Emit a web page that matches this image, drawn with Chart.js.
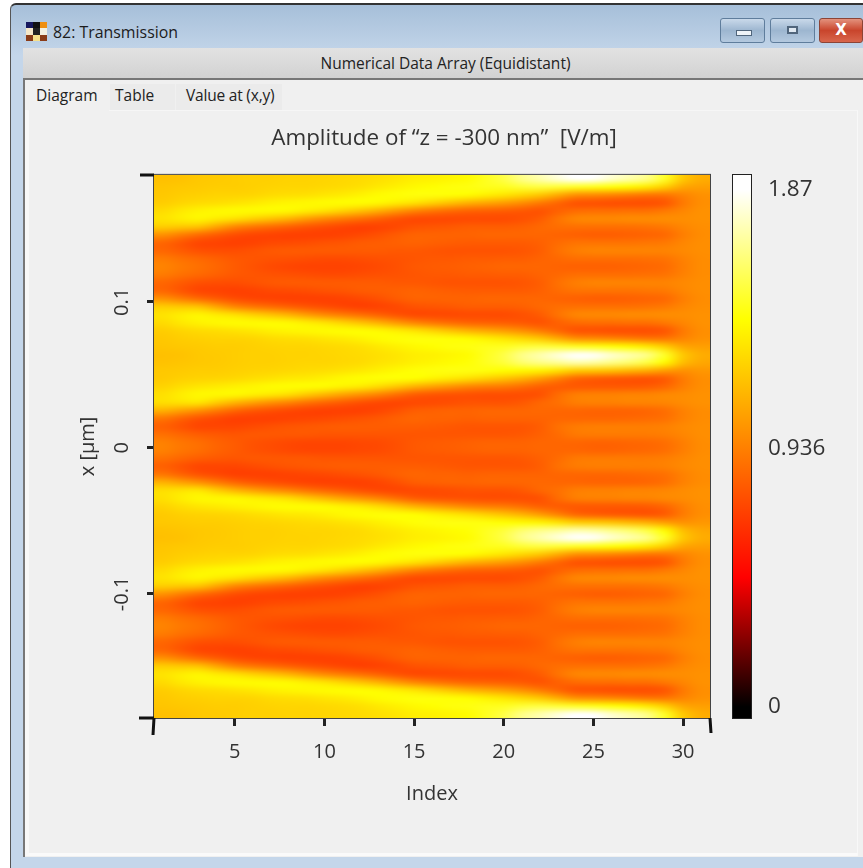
<!DOCTYPE html>
<html>
<head>
<meta charset="utf-8">
<title>82: Transmission</title>
<script src="https://cdn.jsdelivr.net/npm/chart.js@4"></script>
<style>
  html, body { margin: 0; padding: 0; background: #fff; }
  body { width: 863px; height: 868px; overflow: hidden; position: relative; font-family: "Open Sans", sans-serif; color: #333; }
  .abs { position: absolute; }
  #frame { left: 10px; top: 3px; width: 853px; height: 865px; background: linear-gradient(#a6bfd9, #c4d6ea 50px); border-left: 1px solid #555; border-top: 2px solid #333; border-top-left-radius: 6px; box-sizing: border-box; }
  #titleText { left: 53px; top: 21px; font-size: 15.9px; color: #1c1c1c; }
  #icon { left: 26px; top: 22px; width: 21px; height: 19px; display: grid; grid-template-columns: repeat(3, 7px); grid-template-rows: repeat(3, 6.33px); }
  .btn { top: 18px; height: 25px; border: 1px solid #5f7d9c; border-radius: 3px; box-sizing: border-box; background: linear-gradient(#c9d9ea, #9db6d0 50%, #b4c9df); text-align: center; }
  #close { background: linear-gradient(#e3927d, #c9452c 50%, #d8664c); border-color: #8c4436; }
  #band { left: 23px; top: 48px; width: 835px; height: 30px; padding-left: 5px; background: linear-gradient(#e2e2e2, #d2d2d2); text-align: center; font-size: 15.5px; line-height: 30px; color: #222; }
  #panel { left: 23px; top: 78px; width: 840px; height: 779px; background: #f0f0f0; border-top: 2px solid #777; border-left: 2px solid #777; box-sizing: border-box; }
  #panelEdge { left: 25px; top: 110px; width: 833px; height: 746px; background: #f0f0f0; border-left: 4px solid #f8f8f8; border-bottom: 3px solid #fafafa; border-right: 1px solid #f8f8f8; border-top: 1px solid #f6f6f6; box-sizing: border-box; }
  .tab { top: 84px; height: 26px; line-height: 23px; font-size: 15.5px; color: #222; background: #ebebeb; box-sizing: border-box; }
  canvas { position: absolute; }
</style>
</head>
<body>
<div class="abs" id="frame"></div>
<div class="abs" id="icon">
  <i style="background:#17185e"></i><i style="background:#111"></i><i style="background:#ef8f10"></i>
  <i style="background:#f5e7c8"></i><i style="background:#222"></i><i style="background:#f3f0e0"></i>
  <i style="background:#8a3c18"></i><i style="background:#f6e08a"></i><i style="background:#8a3c18"></i>
</div>
<div class="abs" id="titleText">82: Transmission</div>
<div class="abs btn" style="left:720px;width:45px"><span class="abs" style="left:15px;top:11px;width:14px;height:4px;background:#eef3f8;border:1px solid #50657c"></span></div>
<div class="abs btn" style="left:770px;width:45px"><span class="abs" style="left:16px;top:7px;width:11px;height:8px;border:2px solid #50657c;background:#dfe8f1;box-sizing:border-box"></span></div>
<div class="abs btn" id="close" style="left:819px;width:44px;color:#fff;font:bold 15px/22px 'DejaVu Sans'">X</div>
<div class="abs" id="band">Numerical Data Array (Equidistant)</div>
<div class="abs" id="panel"></div>
<div class="abs" id="panelEdge"></div>
<div class="abs tab" style="left:29px;width:80px;height:27px;background:#f0f0f0;padding-left:7px">Diagram</div>
<div class="abs tab" style="left:110px;width:65px;padding-left:5px">Table</div>
<div class="abs tab" style="left:176px;width:106px;padding-left:10px;letter-spacing:-0.2px">Value at (x,y)</div>
<canvas id="heatChart" class="abs" style="left:60px;top:120px" width="768" height="686"></canvas>
<canvas id="barChart" class="abs" style="left:720px;top:120px" width="143" height="686"></canvas>

<script>
// axis labels and ticks
const indexLabels = ["1","2","3","4","5","6","7","8","9","10","11","12","13","14","15","16","17","18","19","20","21","22","23","24","25","26","27","28","29","30","31"];
const indexTicks = ["5","10","15","20","25","30"];
const xTicks = [-0.1, 0, 0.1];
const xMin = -0.185;
const xMax = 0.187;

// colour bar
const barTicks = [0, 0.936, 1.87];
const barMin = -0.04;
const barMax = 1.924;
const mapStops = [0, 0.4675, 1.4025, 1.87];
const mapColors = [[0,0,0],[255,0,0],[255,255,0],[255,255,255]];

// amplitude, in 0.01 V/m, top row first, one value per index
const zRows = [
[117,118,120,121,122,123,123,124,124,125,126,127,129,131,134,135,137,139,146,153,165,172,180,187,186,178,172,165,147,120,110],
[119,120,121,122,122,123,124,125,125,126,127,129,132,135,138,140,142,143,145,146,150,152,150,147,145,142,138,132,122,108,105],
[120,122,123,124,124,125,127,128,129,131,133,136,139,141,142,142,141,139,135,131,126,120,110,100,98,96,93,90,90,95,100],
[122,125,127,128,130,132,135,137,138,139,140,140,138,134,130,124,118,112,108,104,99,92,84,77,76,75,75,75,78,91,99],
[127,132,136,138,139,139,139,138,134,130,124,118,111,103,95,90,86,83,82,81,79,77,82,86,87,87,88,88,91,96,100],
[130,134,137,133,129,123,118,112,104,97,92,87,82,77,73,73,73,74,74,74,76,80,89,96,97,97,98,98,99,99,100],
[122,120,118,107,96,90,86,82,78,75,72,70,71,73,77,78,79,81,81,81,82,85,87,88,88,88,88,89,91,96,99],
[100,93,86,80,75,72,71,70,70,70,71,73,76,80,83,83,83,83,84,84,84,84,83,82,81,81,82,83,85,93,98],
[84,78,72,71,70,71,73,74,75,77,78,80,81,82,83,82,81,80,80,80,80,82,86,89,89,89,89,90,91,96,99],
[84,80,76,75,75,77,79,80,80,80,80,80,80,79,79,78,77,77,77,77,78,81,88,93,95,95,95,95,95,97,99],
[92,88,85,82,79,78,77,76,75,74,74,75,76,77,78,79,79,80,80,81,81,83,85,87,87,87,87,88,89,94,98],
[95,91,88,84,80,77,74,72,71,71,71,72,74,76,79,80,81,82,83,84,84,84,83,82,82,82,83,84,86,93,98],
[92,88,85,82,79,78,77,76,75,74,74,75,76,77,78,79,79,80,80,81,81,83,85,87,87,87,87,88,89,94,98],
[84,80,76,75,75,77,79,80,80,80,80,80,80,79,79,78,77,77,77,77,78,81,88,93,95,95,95,95,95,97,99],
[84,78,72,71,70,71,73,74,75,77,78,80,81,82,83,82,81,80,80,80,80,82,86,89,89,89,89,90,91,96,99],
[100,93,86,80,75,72,71,70,70,70,71,73,76,80,83,83,83,83,84,84,84,84,83,82,81,81,82,83,85,93,98],
[122,120,118,107,96,90,86,82,78,75,72,70,71,73,77,78,79,81,81,81,82,85,87,88,88,88,88,89,91,96,99],
[130,134,137,133,129,123,118,112,104,97,92,87,82,77,73,73,73,74,74,74,76,80,89,96,97,97,98,98,99,99,100],
[127,132,136,138,139,139,139,138,134,130,124,118,111,103,95,90,86,83,82,81,79,77,82,86,87,87,88,88,91,96,100],
[122,125,127,128,130,132,135,137,138,139,140,140,138,134,130,124,118,112,108,104,99,92,84,77,76,75,75,75,78,91,99],
[120,122,123,124,124,125,127,128,129,131,133,136,139,141,142,142,141,139,135,131,126,120,110,100,98,96,93,90,90,95,100],
[119,120,121,122,122,123,124,125,125,126,127,129,132,135,138,140,142,143,145,146,150,152,150,147,145,142,138,132,122,108,105],
[117,118,120,121,122,123,123,124,124,125,126,127,129,131,134,135,137,139,146,153,165,172,180,187,186,178,172,165,147,120,110],
[118,119,120,121,122,123,123,124,125,125,126,127,130,132,135,137,139,141,146,151,160,165,168,172,170,165,160,152,138,116,108],
[120,121,122,122,123,124,125,126,127,128,130,132,135,138,141,142,143,143,142,140,138,136,130,122,120,118,114,110,104,100,102],
[121,123,124,125,126,128,130,132,133,135,138,140,141,141,140,136,132,128,123,118,112,104,94,84,81,79,78,77,80,92,99],
[124,128,131,133,135,137,139,140,140,139,136,133,127,120,112,106,101,96,93,91,87,82,80,79,79,79,79,80,84,93,99],
[129,134,138,138,138,135,132,128,121,114,107,101,95,88,81,78,77,76,75,75,75,76,86,93,94,94,95,95,97,98,100],
[128,130,131,122,113,106,100,95,89,84,80,76,73,72,73,74,75,77,77,77,79,84,88,93,94,94,95,95,96,98,100],
[112,106,100,92,84,79,76,73,71,70,70,70,72,76,81,82,83,83,84,84,84,85,84,84,83,83,83,84,87,94,98],
[90,83,77,73,70,70,70,71,72,73,75,77,79,82,84,83,83,82,83,83,83,83,84,84,84,84,85,86,88,94,98],
[82,77,72,72,72,74,76,78,79,80,81,81,81,81,81,80,79,78,78,78,78,81,88,92,93,93,93,93,94,97,99],
[88,84,81,79,78,79,79,79,79,78,78,78,78,78,78,78,78,78,78,78,79,82,86,91,92,92,92,92,93,96,99],
[94,90,87,83,80,77,75,73,72,72,72,73,74,76,79,80,81,82,83,83,83,84,84,84,83,83,84,85,87,93,98],
[94,90,87,83,80,77,75,73,72,72,72,73,74,76,79,80,81,82,83,83,83,84,84,84,83,83,84,85,87,93,98],
[88,84,81,79,78,79,79,79,79,78,78,78,78,78,78,78,78,78,78,78,79,82,86,91,92,92,92,92,93,96,99],
[82,77,72,72,72,74,76,78,79,80,81,81,81,81,81,80,79,78,78,78,78,81,88,92,93,93,93,93,94,97,99],
[90,83,77,73,70,70,70,71,72,73,75,77,79,82,84,83,83,82,83,83,83,83,84,84,84,84,85,86,88,94,98],
[112,106,100,92,84,79,76,73,71,70,70,70,72,76,81,82,83,83,84,84,84,85,84,84,83,83,83,84,87,94,98],
[128,130,131,122,113,106,100,95,89,84,80,76,73,72,73,74,75,77,77,77,79,84,88,93,94,94,95,95,96,98,100],
[129,134,138,138,138,135,132,128,121,114,107,101,95,88,81,78,77,76,75,75,75,76,86,93,94,94,95,95,97,98,100],
[124,128,131,133,135,137,139,140,140,139,136,133,127,120,112,106,101,96,93,91,87,82,80,79,79,79,79,80,84,93,99],
[121,123,124,125,126,128,130,132,133,135,138,140,141,141,140,136,132,128,123,118,112,104,94,84,81,79,78,77,80,92,99],
[120,121,122,122,123,124,125,126,127,128,130,132,135,138,141,142,143,143,142,140,138,136,130,122,120,118,114,110,104,100,102],
[118,119,120,121,122,123,123,124,125,125,126,127,130,132,135,137,139,141,146,151,160,165,168,172,170,165,160,152,138,116,108],
[117,118,120,121,122,123,123,124,124,125,126,127,129,131,134,135,137,139,146,153,165,172,180,187,186,178,172,165,147,120,110],
[119,120,121,122,122,123,124,125,125,126,127,129,132,135,138,140,142,143,145,146,150,152,150,147,145,142,138,132,122,108,105],
[120,122,123,124,124,125,127,128,129,131,133,136,139,141,142,142,141,139,135,131,126,120,110,100,98,96,93,90,90,95,100],
[122,125,127,128,130,132,135,137,138,139,140,140,138,134,130,124,118,112,108,104,99,92,84,77,76,75,75,75,78,91,99],
[127,132,136,138,139,139,139,138,134,130,124,118,111,103,95,90,86,83,82,81,79,77,82,86,87,87,88,88,91,96,100],
[130,134,137,133,129,123,118,112,104,97,92,87,82,77,73,73,73,74,74,74,76,80,89,96,97,97,98,98,99,99,100],
[122,120,118,107,96,90,86,82,78,75,72,70,71,73,77,78,79,81,81,81,82,85,87,88,88,88,88,89,91,96,99],
[100,93,86,80,75,72,71,70,70,70,71,73,76,80,83,83,83,83,84,84,84,84,83,82,81,81,82,83,85,93,98],
[84,78,72,71,70,71,73,74,75,77,78,80,81,82,83,82,81,80,80,80,80,82,86,89,89,89,89,90,91,96,99],
[84,80,76,75,75,77,79,80,80,80,80,80,80,79,79,78,77,77,77,77,78,81,88,93,95,95,95,95,95,97,99],
[92,88,85,82,79,78,77,76,75,74,74,75,76,77,78,79,79,80,80,81,81,83,85,87,87,87,87,88,89,94,98],
[95,91,88,84,80,77,74,72,71,71,71,72,74,76,79,80,81,82,83,84,84,84,83,82,82,82,83,84,86,93,98],
[92,88,85,82,79,78,77,76,75,74,74,75,76,77,78,79,79,80,80,81,81,83,85,87,87,87,87,88,89,94,98],
[84,80,76,75,75,77,79,80,80,80,80,80,80,79,79,78,77,77,77,77,78,81,88,93,95,95,95,95,95,97,99],
[84,78,72,71,70,71,73,74,75,77,78,80,81,82,83,82,81,80,80,80,80,82,86,89,89,89,89,90,91,96,99],
[100,93,86,80,75,72,71,70,70,70,71,73,76,80,83,83,83,83,84,84,84,84,83,82,81,81,82,83,85,93,98],
[122,120,118,107,96,90,86,82,78,75,72,70,71,73,77,78,79,81,81,81,82,85,87,88,88,88,88,89,91,96,99],
[130,134,137,133,129,123,118,112,104,97,92,87,82,77,73,73,73,74,74,74,76,80,89,96,97,97,98,98,99,99,100],
[127,132,136,138,139,139,139,138,134,130,124,118,111,103,95,90,86,83,82,81,79,77,82,86,87,87,88,88,91,96,100],
[122,125,127,128,130,132,135,137,138,139,140,140,138,134,130,124,118,112,108,104,99,92,84,77,76,75,75,75,78,91,99],
[120,122,123,124,124,125,127,128,129,131,133,136,139,141,142,142,141,139,135,131,126,120,110,100,98,96,93,90,90,95,100],
[119,120,121,122,122,123,124,125,125,126,127,129,132,135,138,140,142,143,145,146,150,152,150,147,145,142,138,132,122,108,105],
[117,118,120,121,122,123,123,124,124,125,126,127,129,131,134,135,137,139,146,153,165,172,180,187,186,178,172,165,147,120,110]
];

const textColor = "#333";
const axisFont = { family: "'Open Sans'", size: 20 };

/* value to colour, same map as the colour bar */
function colorFor(v) {
  for (let i = 1; i < mapStops.length; i++) {
    if (v <= mapStops[i]) {
      const t = (v - mapStops[i - 1]) / (mapStops[i] - mapStops[i - 1]);
      const rgb = mapColors[i].map((c, k) => Math.round(mapColors[i - 1][k] + (c - mapColors[i - 1][k]) * t));
      return `rgb(${rgb.join(",")})`;
    }
  }
  return "rgb(255,255,255)";
}

/* one floating bar per cell, rows stacked from the top of the x range */
const rowStep = (xMax - xMin) / zRows.length;
const heatSets = zRows.map((row, r) => ({
  data: row.map(() => [xMax - (r + 1) * rowStep, xMax - r * rowStep]),
  backgroundColor: row.map(v => colorFor(v / 100)),
  borderWidth: 0,
  grouped: false,
  barPercentage: 1,
  categoryPercentage: 1
}));

/* the original renderer interpolates its cells, so the drawn bars get resampled smooth */
const smoothCells = {
  id: "smoothCells",
  afterDatasetsDraw(chart) {
    const { ctx, chartArea: a } = chart;
    const off = document.createElement("canvas");
    off.width = indexLabels.length;
    off.height = zRows.length;
    const oc = off.getContext("2d");
    chart.data.datasets.forEach((ds, r) => {
      ds.backgroundColor.forEach((c, i) => {
        oc.fillStyle = c;
        oc.fillRect(i, r, 1, 1);
      });
    });
    ctx.save();
    ctx.imageSmoothingEnabled = true;
    ctx.imageSmoothingQuality = "high";
    ctx.drawImage(off, a.left, a.top, a.right - a.left, a.bottom - a.top);
    ctx.restore();
  }
};

/* frame and the heavy corner ticks */
const plotFrame = {
  id: "plotFrame",
  afterDraw(chart) {
    const { ctx, chartArea: a } = chart;
    ctx.save();
    ctx.strokeStyle = "#444";
    ctx.lineWidth = 1;
    ctx.strokeRect(a.left - 0.5, a.top - 0.5, a.right - a.left + 1, a.bottom - a.top + 1);
    ctx.strokeStyle = "#111";
    ctx.lineWidth = 3;
    ctx.beginPath();
    ctx.moveTo(a.left - 14, a.top); ctx.lineTo(a.left, a.top);
    ctx.moveTo(a.left - 15, a.bottom); ctx.lineTo(a.left, a.bottom);
    ctx.moveTo(a.left, a.bottom); ctx.lineTo(a.left - 1, a.bottom + 17);
    ctx.moveTo(a.right, a.bottom); ctx.lineTo(a.right + 1, a.bottom + 15);
    ctx.stroke();
    ctx.restore();
  }
};

new Chart(document.getElementById("heatChart"), {
  type: "bar",
  data: { labels: indexLabels, datasets: heatSets },
  options: {
    responsive: false,
    animation: false,
    layout: { padding: 0 },
    plugins: {
      legend: { display: false },
      tooltip: { enabled: false },
      title: {
        display: true,
        text: "Amplitude of \u201Cz = -300 nm\u201D  [V/m]",
        color: textColor,
        font: { family: "'Open Sans'", size: 22.4, weight: "normal" },
        padding: { top: 5, bottom: 23 }
      }
    },
    scales: {
      x: {
        type: "category",
        afterBuildTicks(s) { s.ticks = s.ticks.filter(t => indexTicks.includes(indexLabels[t.value])); },
        afterFit(s) { s.height = 88; },
        grid: { offset: false, drawOnChartArea: false, drawTicks: true, tickLength: 8, tickWidth: 3, tickColor: "#222" },
        border: { display: false },
        ticks: { autoSkip: false, maxRotation: 0, color: textColor, font: axisFont, padding: 14 },
        title: { display: true, text: "Index", color: textColor, font: axisFont, padding: { top: 0, bottom: 0 } }
      },
      y: {
        min: xMin,
        max: xMax,
        afterBuildTicks(s) { s.ticks = xTicks.map(v => ({ value: v })); },
        afterFit(s) { s.width = 94; },
        grid: { drawOnChartArea: false, drawTicks: true, tickLength: 7, tickWidth: 3, tickColor: "#222" },
        border: { display: false },
        ticks: { minRotation: 90, maxRotation: 90, crossAlign: "center", color: textColor, font: axisFont, padding: 7, callback: v => String(v) },
        title: { display: true, text: "x [\u00B5m]", color: textColor, font: axisFont, padding: { top: 16, bottom: 0 } }
      },
      // empty axis, only keeps the plot clear of the colour bar so the title can centre on the window
      spare: {
        position: "right",
        afterFit(s) { s.width = 118; },
        grid: { display: false },
        border: { display: false },
        ticks: { display: false }
      }
    }
  },
  plugins: [smoothCells, plotFrame]
});

/* colour bar */
new Chart(document.getElementById("barChart"), {
  type: "bar",
  data: {
    labels: ["z"],
    datasets: [{
      data: [[barMin, barMax]],
      barPercentage: 1,
      categoryPercentage: 1,
      borderWidth: 0,
      backgroundColor(c) {
        const s = c.chart.scales.y;
        const y0 = s.getPixelForValue(0);
        const y1 = s.getPixelForValue(mapStops[3]);
        if (!isFinite(y0) || !isFinite(y1)) return "#000";
        const g = c.chart.ctx.createLinearGradient(0, y0, 0, y1);
        mapStops.forEach((v, i) => g.addColorStop(v / mapStops[3], `rgb(${mapColors[i].join(",")})`));
        return g;
      }
    }]
  },
  options: {
    responsive: false,
    animation: false,
    layout: { padding: { left: 13, top: 55, bottom: 88 } },
    plugins: { legend: { display: false }, tooltip: { enabled: false } },
    scales: {
      x: { display: false },
      y: {
        position: "right",
        min: barMin,
        max: barMax,
        afterBuildTicks(s) { s.ticks = barTicks.map(v => ({ value: v })); },
        afterFit(s) { s.width = 112; },
        grid: { display: false },
        border: { display: false },
        ticks: { color: textColor, font: { family: "'Open Sans'", size: 22.5 }, padding: 9, callback: v => String(v) }
      }
    }
  },
  plugins: [{
    id: "barFrame",
    afterDraw(chart) {
      const { ctx, chartArea: a } = chart;
      ctx.save();
      ctx.strokeStyle = "#222";
      ctx.lineWidth = 1;
      ctx.strokeRect(a.left - 0.5, a.top - 0.5, a.right - a.left + 1, a.bottom - a.top + 1);
      ctx.restore();
    }
  }]
});
</script>
</body>
</html>
